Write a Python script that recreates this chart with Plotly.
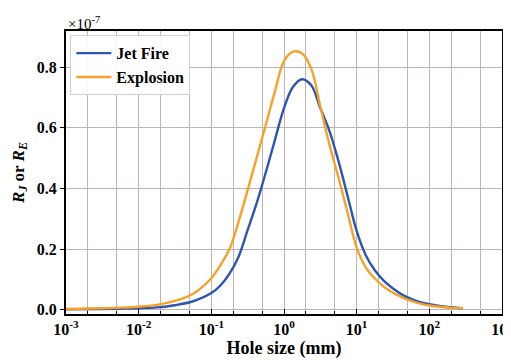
import plotly.graph_objects as go

# log10 of hole size (mm) sample positions
log_hole = [-3.0, -2.5, -2.25, -2.0, -1.75, -1.5, -1.25, -1.0, -0.875, -0.75, -0.625, -0.5,
            -0.375, -0.25, -0.125, 0.0, 0.125, 0.25, 0.375, 0.5, 0.625, 0.75, 0.875, 1.0,
            1.125, 1.25, 1.375, 1.5, 1.625, 1.75, 1.875, 2.0, 2.25, 2.46]
hole_size = [10 ** v for v in log_hole]

# values in units of 1e-7
jet_fire = [0.0012, 0.0025, 0.0035, 0.005, 0.008, 0.015, 0.028, 0.055, 0.08, 0.119, 0.175, 0.263,
            0.352, 0.453, 0.56, 0.665, 0.735, 0.76, 0.74, 0.665, 0.59, 0.49, 0.375, 0.26,
            0.18, 0.13, 0.095, 0.07, 0.05, 0.036, 0.025, 0.018, 0.009, 0.005]
explosion = [0.0025, 0.0048, 0.0068, 0.010, 0.016, 0.029, 0.053, 0.104, 0.147, 0.20, 0.29, 0.395,
             0.502, 0.61, 0.72, 0.82, 0.851, 0.845, 0.795, 0.67, 0.545, 0.435, 0.32, 0.205,
             0.14, 0.103, 0.076, 0.056, 0.041, 0.029, 0.02, 0.014, 0.0075, 0.005]

x_tickvals = [1e-3, 1e-2, 1e-1, 1e0, 1e1, 1e2, 1e3]
x_ticktext = ["10<sup>-3</sup>", "10<sup>-2</sup>", "10<sup>-1</sup>", "10<sup>0</sup>",
              "10<sup>1</sup>", "10<sup>2</sup>", "10<sup>3</sup>"]
y_tickvals = [0.0, 0.2, 0.4, 0.6, 0.8]
y_ticktext = ["0.0", "0.2", "0.4", "0.6", "0.8"]

FONT = "Liberation Serif, Times New Roman, serif"
BLUE = "#2c56b2"
ORANGE = "#f8a127"
GRID = "#bdb5b5"

fig = go.Figure()
fig.add_trace(go.Scatter(x=hole_size, y=jet_fire, mode="lines", name="<b>Jet Fire</b>",
                         line=dict(color=BLUE, width=2.4, shape="spline", smoothing=1.0)))
fig.add_trace(go.Scatter(x=hole_size, y=explosion, mode="lines", name="<b>Explosion</b>",
                         line=dict(color=ORANGE, width=2.4, shape="spline", smoothing=1.0)))

# page body adds an 8px offset; figure sized so plot area lands where the reference has it
fig.update_layout(
    width=503, height=352,
    margin=dict(l=58, r=9, t=23, b=46),
    paper_bgcolor="white", plot_bgcolor="white",
    font=dict(family=FONT, size=16, color="black"),
    showlegend=True,
    legend=dict(x=0.01, y=0.985, xanchor="left", yanchor="top",
                bgcolor="rgba(255,255,255,0.9)", bordercolor="#d0d0d0", borderwidth=1,
                font=dict(family=FONT, size=16, color="black"),
                itemwidth=35, tracegroupgap=0),
    xaxis=dict(type="log", range=[-3, 3], automargin=False, ticklabeloverflow="allow",
               tickvals=x_tickvals, ticktext=x_ticktext,
               tickfont=dict(family=FONT, size=16, color="black", weight="bold"),
               showgrid=True, gridcolor=GRID, gridwidth=1,
               minor=dict(showgrid=True, gridcolor=GRID, gridwidth=1, ticks="inside",
                          ticklen=3, tickcolor="black"),
               ticks="inside", ticklen=5, tickcolor="black",
               showline=True, linecolor="black", linewidth=2, mirror=True,
               zeroline=False,
               title=dict(text="<b>Hole size (mm)</b>", font=dict(family=FONT, size=18),
                          standoff=0)),
    yaxis=dict(range=[-0.014, 0.919], automargin=False,
               tickvals=y_tickvals, ticktext=y_ticktext,
               tickfont=dict(family=FONT, size=16, color="black", weight="bold"),
               showgrid=True, gridcolor=GRID, gridwidth=1,
               ticks="outside", ticklen=4, tickcolor="black",
               showline=True, linecolor="black", linewidth=2, mirror=True,
               zeroline=False,
               title=dict(text="<b><i>R<sub>J</sub></i> or <i>R<sub>E</sub></i></b>",
                          font=dict(family=FONT, size=17), standoff=8)),
)

fig.add_annotation(x=0, y=1.0, xref="paper", yref="paper", xanchor="left", yanchor="bottom",
                   text="×10<sup>-7</sup>", showarrow=False,
                   font=dict(family=FONT, size=15, color="black"), yshift=-3)

fig.write_html("out.html")
